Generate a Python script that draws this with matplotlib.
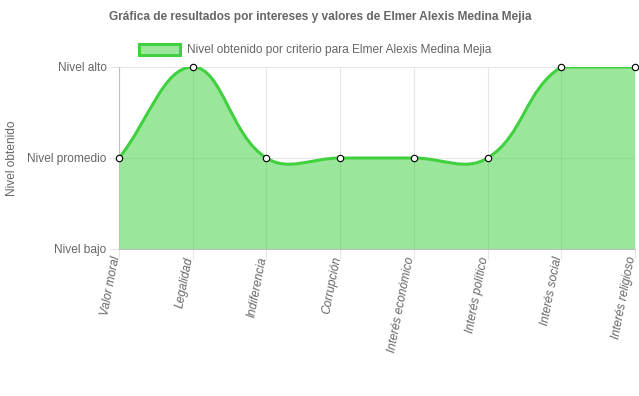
import numpy as np
import matplotlib
matplotlib.use("Agg")
import matplotlib.pyplot as plt
from matplotlib.path import Path
from matplotlib.patches import PathPatch, Patch

plt.rcParams['font.family'] = ['Liberation Sans', 'DejaVu Sans']

categories = ['Valor moral', 'Legalidad', 'Indiferencia', 'Corrupción',
              'Interés económico', 'Interés político', 'Interés social',
              'Interés religioso']
values = [2, 3, 2, 2, 2, 2, 3, 3]
level_ticks = [1, 2, 3]
level_labels = ['Nivel bajo', 'Nivel promedio', 'Nivel alto']
series_name = 'Nivel obtenido por criterio para Elmer Alexis Medina Mejia'
title = 'Gráfica de resultados por intereses y valores de Elmer Alexis Medina Mejia'

line_color = '#40d040'
text_color = '#666666'
grid_color = '#e6e6e6'
fs = 8.6

W, H = 639, 396
fig = plt.figure(figsize=(W / 100, H / 100), dpi=100)
left, right, top, bottom = 119, 635, 67, 249
ax = fig.add_axes([left / W, 1 - bottom / H, (right - left) / W, (bottom - top) / H])

xs = np.arange(len(categories), dtype=float)
ys = np.array(values, dtype=float)
ax.set_xlim(0, len(categories) - 1)
ax.set_ylim(level_ticks[0], level_ticks[-1])

# spline control points like chart.js (tension 0.4), computed in pixel space
sx = (right - left) / (len(categories) - 1)
sy = (bottom - top) / (level_ticks[-1] - level_ticks[0])
px = xs * sx
py = ys * sy
t = 0.4
n = len(xs)
cp_prev = np.zeros((n, 2))
cp_next = np.zeros((n, 2))
for i in range(n):
    p0 = np.array([px[max(i - 1, 0)], py[max(i - 1, 0)]])
    p1 = np.array([px[i], py[i]])
    p2 = np.array([px[min(i + 1, n - 1)], py[min(i + 1, n - 1)]])
    d01 = np.hypot(*(p1 - p0))
    d12 = np.hypot(*(p2 - p1))
    s01 = d01 / (d01 + d12)
    s12 = d12 / (d01 + d12)
    cp_prev[i] = p1 - t * s01 * (p2 - p0)
    cp_next[i] = p1 + t * s12 * (p2 - p0)
for cp in (cp_prev, cp_next):
    cp[:, 0] = np.clip(cp[:, 0] / sx, 0, n - 1)
    cp[:, 1] = np.clip(cp[:, 1] / sy, level_ticks[0], level_ticks[-1])

verts = [(xs[0], ys[0])]
codes = [Path.MOVETO]
for i in range(n - 1):
    verts += [tuple(cp_next[i]), tuple(cp_prev[i + 1]), (xs[i + 1], ys[i + 1])]
    codes += [Path.CURVE4] * 3

line_path = Path(verts, codes)
fill_path = Path(verts + [(xs[-1], level_ticks[0]), (xs[0], level_ticks[0]), (xs[0], ys[0])],
                 codes + [Path.LINETO, Path.LINETO, Path.CLOSEPOLY])

ax.add_patch(PathPatch(fill_path, facecolor=line_color, alpha=0.53, edgecolor='none', zorder=2))
ax.add_patch(PathPatch(line_path, facecolor='none', edgecolor=line_color, lw=2.2, zorder=3))
ax.plot(xs, ys, linestyle='none', marker='o', markersize=4.6, markerfacecolor='white',
        markeredgecolor='black', markeredgewidth=0.8, zorder=4, clip_on=False)

ax.set_xticks(xs)
ax.set_xticklabels(categories, rotation=79, ha='right', va='baseline',
                   rotation_mode='anchor', style='italic', fontsize=fs, color=text_color)
ax.set_yticks(level_ticks)
ax.set_yticklabels(level_labels, fontsize=fs, color=text_color)
ax.tick_params(axis='both', length=7, width=0.8, color=grid_color, pad=2)
ax.tick_params(axis='x', pad=-1)
ax.grid(True, color=grid_color, lw=0.8, zorder=0)
ax.set_axisbelow(True)
for s in ['top', 'right']:
    ax.spines[s].set_visible(False)
for s in ['left', 'bottom']:
    ax.spines[s].set_color('#bfbfbf')
    ax.spines[s].set_linewidth(0.8)

fig.text(12 / W, 1 - 158 / H, 'Nivel obtenido', rotation=90, ha='center', va='center',
         fontsize=fs, color=text_color)
fig.text(320 / W, 1 - 17 / H, title, ha='center', va='center', fontsize=fs,
         fontweight='bold', color=text_color)

handle = Patch(facecolor=(0.25, 0.82, 0.25, 0.53), edgecolor=line_color, linewidth=2.2)
fig.legend([handle], [series_name], loc='center', bbox_to_anchor=(315 / W, 1 - 50 / H),
           frameon=False, fontsize=fs, labelcolor=text_color, handlelength=3.5,
           handleheight=1.05, handletextpad=0.55, borderpad=0)

fig.savefig('out.png', dpi=100)
